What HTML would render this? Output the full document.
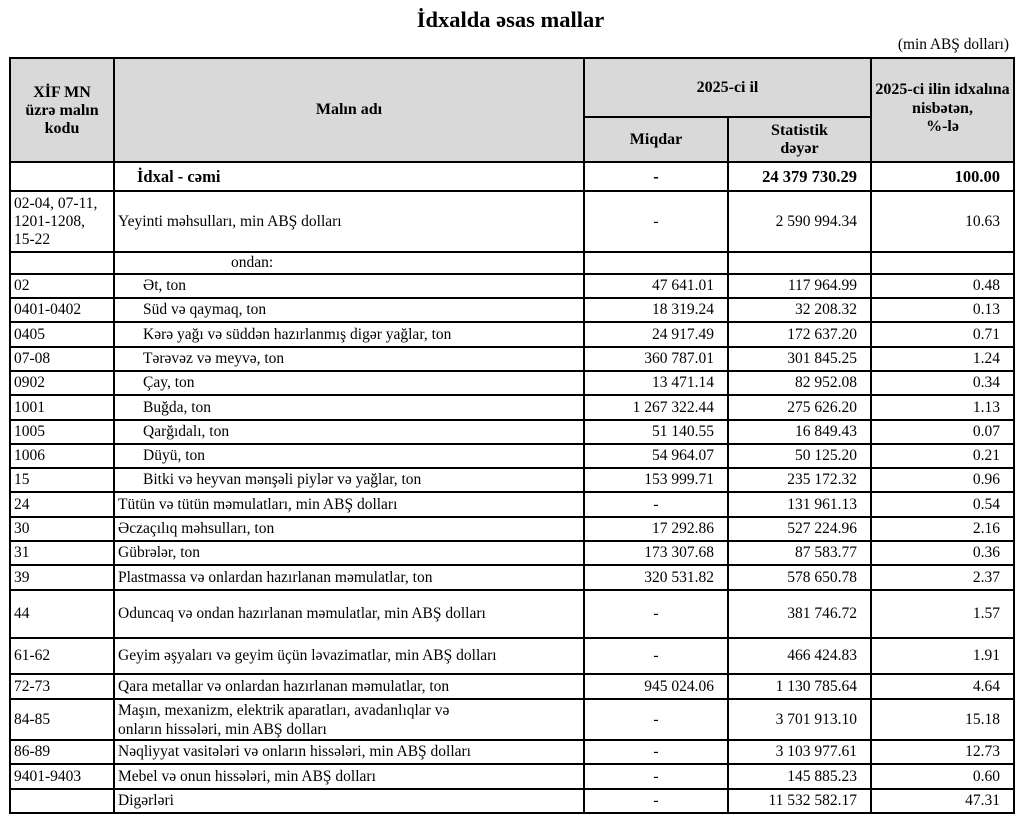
<!DOCTYPE html>
<html><head><meta charset="utf-8"><style>
body{margin:0;background:#fff;font-family:"Liberation Serif",serif;color:#000;}
.t{position:absolute;left:0;top:7px;width:1021px;text-align:center;font-weight:bold;font-size:22.5px;}
.u{position:absolute;right:12px;top:36px;font-size:15.4px;}
table{position:absolute;left:9px;top:57px;border-collapse:collapse;table-layout:fixed;font-size:15.5px;}
td{border:2px solid #000;padding:0 3px;line-height:18px;overflow:hidden;white-space:nowrap;}
.h td{background:#d9d9d9;font-weight:bold;text-align:center;font-size:16px;}
.n{text-align:right;padding-right:13px;}
.c{text-align:center;}
.i{padding-left:28px;}
.b td{font-weight:bold;font-size:16.5px;}
</style></head><body>
<div class="t">İdxalda əsas mallar</div>
<div class="u">(min ABŞ dolları)</div>
<table>
<colgroup><col style="width:104px"><col style="width:470px"><col style="width:144px"><col style="width:143px"><col style="width:143px"></colgroup>
<tr class="h" style="height:59px"><td rowspan="2" style="vertical-align:top;padding-top:25px">XİF MN<br>üzrə malın<br>kodu</td><td rowspan="2">Malın adı</td><td colspan="2">2025-ci il</td><td rowspan="2" style="vertical-align:top;padding-top:22px;line-height:18.5px">2025-ci ilin idxalına<br>nisbətən,<br>%-lə</td></tr>
<tr class="h" style="height:45px"><td>Miqdar</td><td>Statistik<br>dəyər</td></tr>
<tr style="height:29px" class="b"><td></td><td style="padding-left:22px">İdxal - cəmi</td><td class="c">-</td><td class="n">24 379 730.29</td><td class="n">100.00</td></tr>
<tr style="height:61px"><td>02-04, 07-11,<br>1201-1208,<br>15-22</td><td>Yeyinti məhsulları, min ABŞ dolları</td><td class="c">-</td><td class="n">2 590 994.34</td><td class="n">10.63</td></tr>
<tr style="height:22px"><td></td><td style="padding-left:116px">ondan:</td><td></td><td></td><td></td></tr>
<tr style="height:24px"><td>02</td><td class="i">Ət, ton</td><td class="n">47 641.01</td><td class="n">117 964.99</td><td class="n">0.48</td></tr>
<tr style="height:24px"><td>0401-0402</td><td class="i">Süd və qaymaq, ton</td><td class="n">18 319.24</td><td class="n">32 208.32</td><td class="n">0.13</td></tr>
<tr style="height:25px"><td>0405</td><td class="i">Kərə yağı və süddən hazırlanmış digər yağlar, ton</td><td class="n">24 917.49</td><td class="n">172 637.20</td><td class="n">0.71</td></tr>
<tr style="height:24px"><td>07-08</td><td class="i">Tərəvəz və meyvə, ton</td><td class="n">360 787.01</td><td class="n">301 845.25</td><td class="n">1.24</td></tr>
<tr style="height:24px"><td>0902</td><td class="i">Çay, ton</td><td class="n">13 471.14</td><td class="n">82 952.08</td><td class="n">0.34</td></tr>
<tr style="height:25px"><td>1001</td><td class="i">Buğda, ton</td><td class="n">1 267 322.44</td><td class="n">275 626.20</td><td class="n">1.13</td></tr>
<tr style="height:24px"><td>1005</td><td class="i">Qarğıdalı, ton</td><td class="n">51 140.55</td><td class="n">16 849.43</td><td class="n">0.07</td></tr>
<tr style="height:24px"><td>1006</td><td class="i">Düyü, ton</td><td class="n">54 964.07</td><td class="n">50 125.20</td><td class="n">0.21</td></tr>
<tr style="height:24px"><td>15</td><td class="i">Bitki və heyvan mənşəli piylər və yağlar, ton</td><td class="n">153 999.71</td><td class="n">235 172.32</td><td class="n">0.96</td></tr>
<tr style="height:25px"><td>24</td><td>Tütün və tütün məmulatları, min ABŞ dolları</td><td class="c">-</td><td class="n">131 961.13</td><td class="n">0.54</td></tr>
<tr style="height:24px"><td>30</td><td>Əczaçılıq məhsulları, ton</td><td class="n">17 292.86</td><td class="n">527 224.96</td><td class="n">2.16</td></tr>
<tr style="height:24px"><td>31</td><td>Gübrələr, ton</td><td class="n">173 307.68</td><td class="n">87 583.77</td><td class="n">0.36</td></tr>
<tr style="height:25px"><td>39</td><td>Plastmassa və onlardan hazırlanan məmulatlar, ton</td><td class="n">320 531.82</td><td class="n">578 650.78</td><td class="n">2.37</td></tr>
<tr style="height:48px"><td>44</td><td>Oduncaq və ondan hazırlanan məmulatlar, min ABŞ dolları</td><td class="c">-</td><td class="n">381 746.72</td><td class="n">1.57</td></tr>
<tr style="height:36px"><td>61-62</td><td>Geyim əşyaları və geyim üçün ləvazimatlar, min ABŞ dolları</td><td class="c">-</td><td class="n">466 424.83</td><td class="n">1.91</td></tr>
<tr style="height:25px"><td>72-73</td><td>Qara metallar və onlardan hazırlanan məmulatlar, ton</td><td class="n">945 024.06</td><td class="n">1 130 785.64</td><td class="n">4.64</td></tr>
<tr style="height:41px"><td>84-85</td><td style="line-height:19px">Maşın, mexanizm, elektrik aparatları, avadanlıqlar və<br>onların hissələri, min ABŞ dolları</td><td class="c">-</td><td class="n">3 701 913.10</td><td class="n">15.18</td></tr>
<tr style="height:24px"><td>86-89</td><td>Nəqliyyat vasitələri və onların hissələri, min ABŞ dolları</td><td class="c">-</td><td class="n">3 103 977.61</td><td class="n">12.73</td></tr>
<tr style="height:25px"><td>9401-9403</td><td>Mebel və onun hissələri, min ABŞ dolları</td><td class="c">-</td><td class="n">145 885.23</td><td class="n">0.60</td></tr>
<tr style="height:24px"><td></td><td>Digərləri</td><td class="c">-</td><td class="n">11 532 582.17</td><td class="n">47.31</td></tr>
</table>
</body></html>
